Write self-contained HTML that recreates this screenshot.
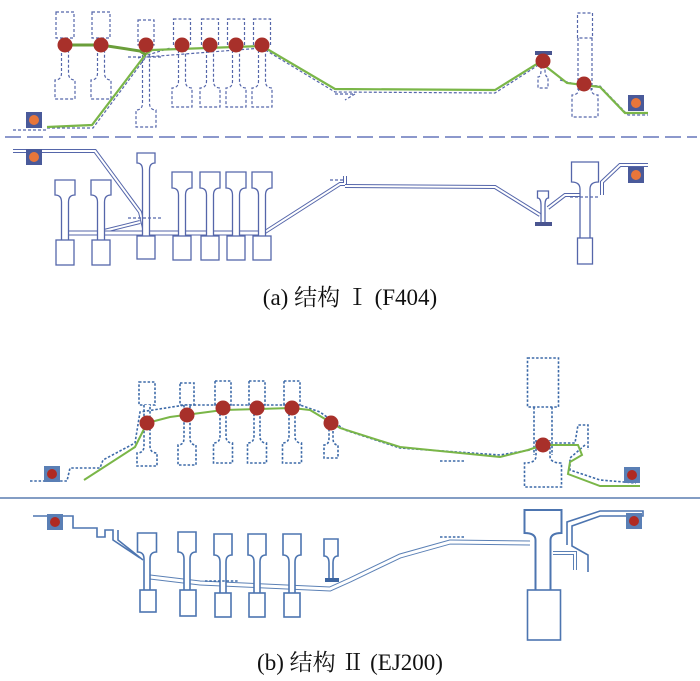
<!DOCTYPE html>
<html><head><meta charset="utf-8">
<style>
html,body{margin:0;padding:0;background:#fff;width:700px;height:681px;overflow:hidden}
svg{position:absolute;left:0;top:0}
.cap{position:absolute;left:0;width:700px;text-align:center;font-family:"Liberation Serif","Noto Serif CJK SC",serif;font-size:23px;line-height:26px;color:#111}
</style></head><body>
<svg id="s" width="700" height="681" viewBox="0 0 700 681" xmlns="http://www.w3.org/2000/svg">
<g fill="none" stroke-linejoin="round">
<line x1="5" y1="137" x2="697" y2="137" stroke="#6677bb" stroke-width="1.5" stroke-dasharray="16 6"/>
<line x1="0" y1="498" x2="700" y2="498" stroke="#5a7db0" stroke-width="1.5"/>
</g>
<g id="dyn"></g>
</svg>
<div class="cap" style="top:285px">(a) 结构 Ⅰ (F404)</div>
<div class="cap" style="top:650px">(b) 结构 Ⅱ (EJ200)</div>
<script>
var NS="http://www.w3.org/2000/svg",g=document.getElementById('dyn');
function el(t,a){var e=document.createElementNS(NS,t);for(var k in a)e.setAttribute(k,a[k]);g.appendChild(e);return e;}
function rect(cx,y1,y2,w,st){el('rect',Object.assign({x:cx-w/2,y:y1,width:w,height:y2-y1,fill:'#fff'},st));}
function webTop(cx,y1,y2,fw,ww,y3,st){
 var a=cx-ww/2,b=cx+ww/2;
 el('path',Object.assign({d:'M'+a+','+y3+' V'+(y2+7)+' Q'+a+','+y2+' '+(cx-fw/2)+','+y2+' V'+y1+' H'+(cx+fw/2)+' V'+y2+' Q'+b+','+y2+' '+b+','+(y2+7)+' V'+y3,fill:'#fff'},st));}
function webBot(cx,y0,y1,y2,fw,ww,st){
 var a=cx-ww/2,b=cx+ww/2;
 el('path',Object.assign({d:'M'+a+','+y0+' V'+(y1-7)+' Q'+a+','+y1+' '+(cx-fw/2)+','+y1+' V'+y2+' H'+(cx+fw/2)+' V'+y1+' Q'+b+','+y1+' '+b+','+(y1-7)+' V'+y0,fill:'#fff'},st));}
function line(pts,st){el('polyline',Object.assign({points:pts,fill:'none'},st));}
function dbl(pts,c,w){line(pts,{stroke:c,'stroke-width':w||4});line(pts,{stroke:'#fff','stroke-width':(w||4)-2});}
function sq(x,y,f,d){el('rect',{x:x-8,y:y-8,width:16,height:16,fill:f});el('circle',{cx:x,cy:y,r:5,fill:d});}
function dot(x,y,r){el('circle',{cx:x,cy:y,r:r||7.5,fill:'#a8302a'});}

var DA={stroke:'#5566aa','stroke-width':1.2,'stroke-dasharray':'3 2'};
var SA={stroke:'#5566aa','stroke-width':1.3};
var DB={stroke:'#3d6aa8','stroke-width':1.6,'stroke-dasharray':'2.5 1.8'};
var SB={stroke:'#4d75b0','stroke-width':1.6};
var CA='#5566aa',CB='#5b80b5',GR='#7ab648';

[[65,12,38,18,80,99,20],[101,12,38,18,80,99,20],[146,20,45,16,110,127,20],[182,19,45,17,88,107,20],[210,19,45,17,88,107,20],[236,19,45,17,88,107,20],[262,19,45,17,88,107,20]].forEach(function(d){
 rect(d[0],d[1],d[2],d[3],DA);webBot(d[0],d[2],d[4],d[5],d[6],7,DA);});
rect(585,13,38,15,DA);line('578,38 578,90',DA);line('592,38 592,90',DA);
webBot(585,88,95,117,26,12,DA);
webBot(543,66,77,88,10,4,DA);
el('rect',{x:535,y:51,width:17,height:4,fill:'#4a5590'});
line('13,130 47,130',DA);line('47,128 93,128 146,57 262,48 335,92 495,93 540,64',DA);
line('138,58 170,48',DA);line('128,57 162,57',DA);line('335,94 355,94 345,100',DA);
line('560,80 575,84 600,86 628,115 648,115',DA);
line('47,127 92,125 146,54 152,50 262,46 335,89 495,90 540,62 553,72 567,83 600,87 625,113 648,113',{stroke:GR,'stroke-width':2.2});
line('65,45 101,45 140,51 146,55',{stroke:'#6a9e3a','stroke-width':3});
[65,101,146,182,210,236,262].forEach(function(x){dot(x,45);});
dot(543,61);dot(584,84);
sq(34,120,'#4a5a9a','#e8763a');sq(636,103,'#4a5a9a','#e8763a');

dbl('13,151 95,151 140,212 144,228',CA);
dbl('100,232 140,222',CA);
dbl('65,233 265,233',CA,5);
dbl('265,232 340,184 345,184 345,176',CA);
dbl('345,186 495,187 540,215',CA);
dbl('548,208 565,195 580,195',CA);
dbl('602,195 602,182 620,165 648,165',CA);
[[65,180,195,20,240],[101,180,195,20,240]].forEach(function(d){webTop(d[0],d[1],d[2],d[3],7,d[4],SA);rect(d[0],d[4],265,18,SA);});
webTop(146,153,163,18,7,236,SA);rect(146,236,259,18,SA);
[182,210,236,262].forEach(function(x){webTop(x,172,188,20,7,236,SA);rect(x,236,260,18,SA);});
webTop(543,191,198,11,4,222,SA);el('rect',{x:535,y:222,width:17,height:4,fill:'#4a5590'});
webTop(585,162,182,27,10,238,SA);rect(585,238,264,15,SA);
line('128,218 162,218',DA);
line('330,180 345,180',DA);line('570,197 598,197',DA);
sq(34,157,'#4a5a9a','#e8763a');sq(636,175,'#4a5a9a','#e8763a');

[[147,382,405,16,453,466,20,6],[187,383,405,14,445,465,18,6],[223,381,405,16,443,463,19,6],[257,381,405,16,443,463,19,6],[292,381,405,16,443,463,19,6]].forEach(function(d){
 rect(d[0],d[1],d[2],d[3],DB);webBot(d[0],d[2],d[4],d[5],d[6],d[7],DB);});
webBot(331,416,445,458,14,4,DB);
rect(543,358,407,31,DB);line('534,407 534,455',DB);line('552,407 552,455',DB);
webBot(543,440,463,487,37,14,DB);
line('30,481 67,481 70,468 100,468 103,460 135,443 140,412 185,405 300,405 320,412 345,430 400,448 500,455 530,450',DB);
line('555,443 575,443 578,425 588,425 588,450',DB);
line('585,445 570,458 570,470 600,480 636,483',DB);
line('440,461 465,461',DB);
line('84,480 135,447 147,423 170,417 223,410 292,408 310,410 340,428 400,447 500,457 528,450 543,445 578,445 582,455 570,462 568,474 600,486 640,486',{stroke:GR,'stroke-width':2});
[[147,423],[187,415],[223,408],[257,408],[292,408],[331,423],[543,445]].forEach(function(p){dot(p[0],p[1],7.5);});
sq(52,474,'#5a7fb5','#b02a22');sq(632,475,'#5a7fb5','#b02a22');

line('33,516 73,516 73,528 97,528 97,537 105,537 105,530 113,530 113,540 140,558',SB);
line('118,530 118,540 143,560',SB);
dbl('150,577 200,583 330,589 350,580 400,556 450,542 530,543',CB,5);
dbl('553,553 575,553 575,570',CB,4);
line('567,545 567,522 600,511 643,511 643,516 600,516 572,526 572,546 588,555 588,572',SB);
webTop(147,533,552,19,6,590,SB);rect(148,590,612,16,SB);
webTop(187,532,552,18,6,590,SB);rect(188,590,616,16,SB);
[223,257,292].forEach(function(x){webTop(x,534,555,18,6,593,SB);rect(x,593,617,16,SB);});
webTop(331,539,556,14,4,578,SB);el('rect',{x:325,y:578,width:14,height:4,fill:'#3d65a0'});
webTop(543,510,533,37,15,590,{stroke:'#4d75b0','stroke-width':2});rect(544,590,640,33,SB);
line('205,581 238,581',DB);line('440,537 465,537',DB);
sq(55,522,'#5a7fb5','#b02a22');sq(634,521,'#5a7fb5','#b02a22');
</script>
</body></html>
